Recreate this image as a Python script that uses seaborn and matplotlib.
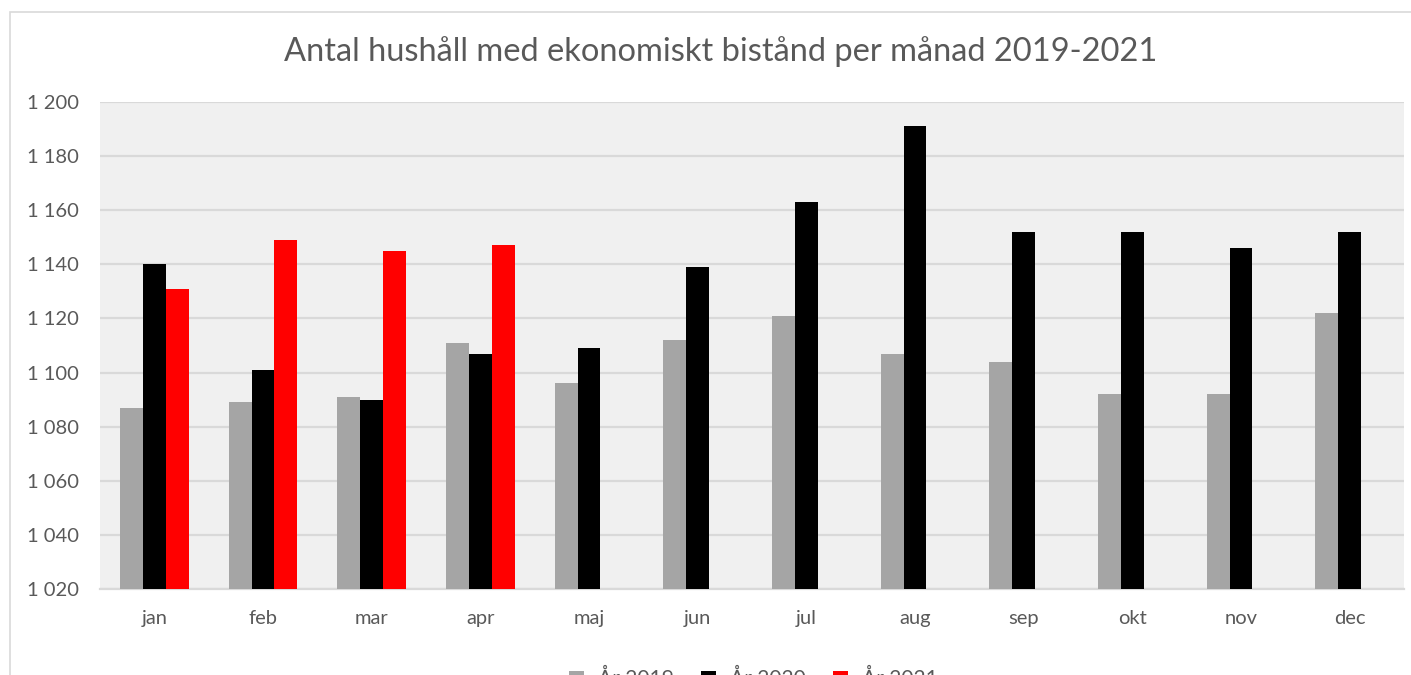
import pandas as pd
import matplotlib.pyplot as plt
import seaborn as sns
from matplotlib.ticker import FuncFormatter, MultipleLocator
from matplotlib.patches import Rectangle

# data
months = ["jan", "feb", "mar", "apr", "maj", "jun", "jul", "aug", "sep", "okt", "nov", "dec"]
years = ["År 2019", "År 2020", "År 2021"]
v2019 = [1087, 1089, 1091, 1111, 1096, 1112, 1121, 1107, 1104, 1092, 1092, 1122]
v2020 = [1140, 1101, 1090, 1107, 1109, 1139, 1163, 1191, 1152, 1152, 1146, 1152]
v2021 = [1131, 1149, 1145, 1147, None, None, None, None, None, None, None, None]
colors = ["#a5a5a5", "#000000", "#ff0000"]

df = pd.DataFrame({
    "Månad": months * 3,
    "År": [years[0]] * 12 + [years[1]] * 12 + [years[2]] * 12,
    "Antal": v2019 + v2020 + v2021,
})
df = df.dropna()

sns.set_style("white")
plt.rcParams["font.family"] = ["Lato", "DejaVu Sans"]
text_col = "#595959"

fig = plt.figure(figsize=(14.11, 6.75), dpi=100)
ax = fig.add_axes([100 / 1411, 1 - 589 / 675, 1304 / 1411, 487 / 675])
ax.set_facecolor("#f0f0f0")

sns.barplot(
    data=df, x="Månad", y="Antal", hue="År",
    order=months, hue_order=years, palette=colors,
    width=0.63, saturation=1, linewidth=0, ax=ax, zorder=3,
)

ax.set_ylim(1020, 1200)
ax.set_xlim(-0.5, 11.5)
ax.yaxis.set_major_locator(MultipleLocator(20))
ax.yaxis.set_major_formatter(FuncFormatter(lambda v, p: f"{int(v):,}".replace(",", " ")))
ax.grid(axis="y", color="#d9d9d9", linewidth=1.6, zorder=0)
ax.set_axisbelow(True)
for s in ["top", "right", "left"]:
    ax.spines[s].set_visible(False)
ax.spines["bottom"].set_color("#d9d9d9")
ax.spines["bottom"].set_linewidth(1.6)
ax.tick_params(axis="both", length=0, labelsize=14.5, colors=text_col)
ax.tick_params(axis="y", pad=15)
ax.tick_params(axis="x", pad=15)
ax.set_xlabel("")
ax.set_ylabel("")

fig.text(0.5105, 1 - 52 / 675, "Antal hushåll med ekonomiskt bistånd per månad 2019-2021",
         ha="center", va="center", fontsize=23.5, color=text_col)

# legend, cut by the lower edge as in the reference
handles, labels = ax.get_legend_handles_labels()
ax.get_legend().remove()
fig.legend(handles, labels, loc="center", bbox_to_anchor=(0.534, -0.006), ncol=3,
           frameon=False, fontsize=15, labelcolor=text_col, handlelength=0.7,
           handleheight=0.7, handletextpad=0.7, columnspacing=1.3)

# outer chart border
fig.patches.append(Rectangle((10 / 1411, -0.1), 1.2, 1 - 12 / 675 + 0.1,
                             transform=fig.transFigure, fill=False,
                             edgecolor="#d9d9d9", linewidth=1.2))

plt.savefig("out.png", dpi=100)
plt.close()
